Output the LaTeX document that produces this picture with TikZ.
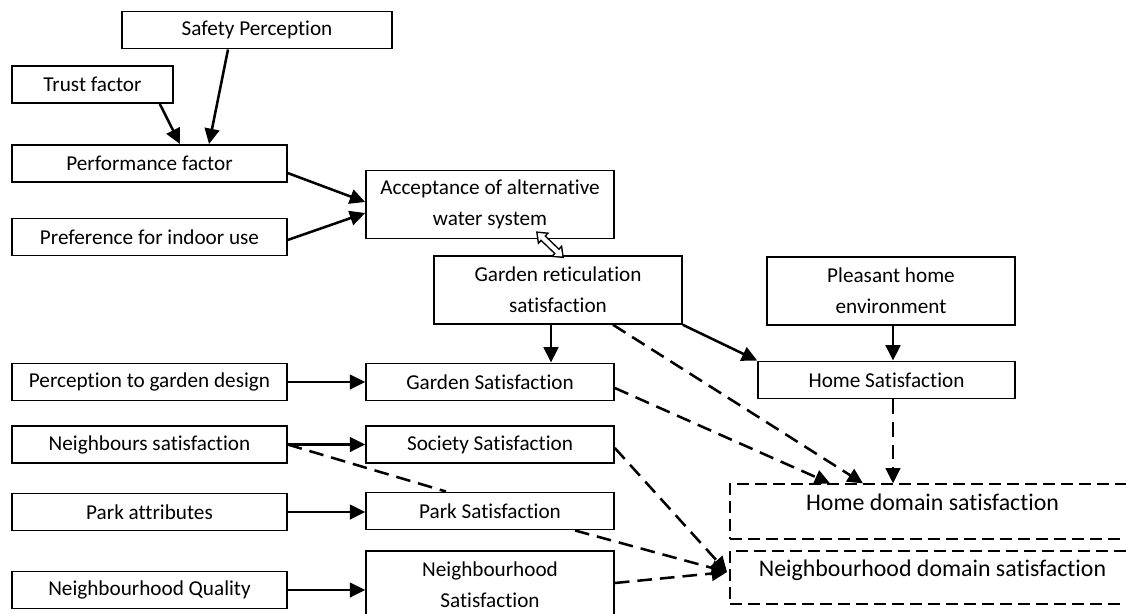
\documentclass[tikz,border=0pt]{standalone}
\usepackage{fontspec}
\setmainfont{Carlito}[Ligatures=NoCommon]
\usetikzlibrary{arrows.meta}

\begin{document}
\begin{tikzpicture}[x=0.75pt, y=-0.75pt,
	factor/.style={draw, line width=1.2pt, align=center, inner sep=2pt,
		font=\fontsize{15.9}{23}\selectfont, minimum height=28pt},
	wide/.style={minimum width=206pt},
	mid/.style={minimum width=186pt},
	twoline/.style={minimum height=51pt},
	dombox/.style={draw, line width=1.2pt, dash pattern=on 9pt off 4.5pt,
		minimum width=304pt, minimum height=41pt, text height=13pt, text depth=14pt,
		font=\fontsize{17.9}{21}\selectfont},
	solidarrow/.style={line width=1.9pt, -{Triangle[length=11.5pt,width=11pt]}},
	dashline/.style={line width=1.9pt, dash pattern=on 11pt off 6pt},
	dasharrow/.style={dashline, -{Triangle[length=11.5pt,width=11pt]}}]

\useasboundingbox (0,0) rectangle (1126,613);
\clip (0,0) rectangle (1126,613);

% acceptance part
\node[factor, minimum width=202.5pt] (safety) at (257,30) {Safety Perception};
\node[factor, minimum width=120.75pt] (trust) at (92.5,84.5) {Trust factor};
\node[factor, wide] (perf) at (149.5,163.5) {Performance factor};
\node[factor, wide] (indoor) at (149.5,237) {Preference for indoor use};
\node[factor, mid, twoline] (accept) at (490,204.5) {Acceptance of alternative\\water system};
\node[factor, mid, twoline] (retic) at (558,290) {Garden reticulation\\satisfaction};
\node[factor, mid, twoline] (pleasant) at (891,291) {Pleasant home\\environment};
\node[factor, minimum width=192.75pt] (homesat) at (886.5,380) {Home Satisfaction};

% satisfaction part
\node[factor, wide] (design) at (149.5,382) {Perception to garden design};
\node[factor, mid] (gardensat) at (490,382) {Garden Satisfaction};
\node[factor, wide] (neighbours) at (149.5,444.5) {Neighbours satisfaction};
\node[factor, mid] (society) at (490,444.5) {Society Satisfaction};
\node[factor, wide] (parkattr) at (149.5,512) {Park attributes};
\node[factor, mid] (parksat) at (490,511) {Park Satisfaction};
\node[factor, wide] (quality) at (149.5,590) {Neighbourhood Quality};
\node[factor, mid, twoline] (nbhsat) at (490,585) {Neighbourhood\\Satisfaction};

\node[dombox] (homedom) at (932.5,511.5) {Home domain satisfaction};
\node[dombox, minimum height=40pt] (nbhdom) at (932.5,577.5) {Neighbourhood domain satisfaction};

\draw[solidarrow] ([shift={(-14,0)}]trust.south east) -- ([shift={(30.5,0)}]perf.north);
\draw[solidarrow] ([shift={(-29,0)}]safety.south) -- ([shift={(59.5,0)}]perf.north);
\draw[solidarrow] ([shift={(0,9.5)}]perf.east) -- ([shift={(0,-2.5)}]accept.west);
\draw[solidarrow] ([shift={(0,3)}]indoor.east) -- ([shift={(0,8.5)}]accept.west);

% hollow two-way arrow
\draw[line width=5.5pt, {Triangle[length=8pt,width=12pt]}-{Triangle[length=8pt,width=12pt]}]
	([shift={(46,-8)}]accept.south) -- ([shift={(6,3)}]retic.north);
\draw[white, line width=3.3pt, shorten <=1.8pt, shorten >=1.8pt,
	{Triangle[length=5pt,width=7.5pt]}-{Triangle[length=5pt,width=7.5pt]}]
	([shift={(46,-8)}]accept.south) -- ([shift={(6,3)}]retic.north);

\draw[solidarrow] ([shift={(-7,0)}]retic.south) -- ([shift={(61,0)}]gardensat.north);
\draw[solidarrow] (retic.south east) -- (homesat.north west);
\draw[dasharrow] ([shift={(55,0)}]retic.south) -- ([shift={(-69.5,0)}]homedom.north);
\draw[dasharrow] ([shift={(0,6)}]gardensat.east) -- ([shift={(-102.5,0)}]homedom.north);
\draw[solidarrow] ([shift={(2,0)}]pleasant.south) -- ([shift={(6.5,0)}]homesat.north);
\draw[dasharrow] ([shift={(6.5,0)}]homesat.south) -- ([shift={(-39.5,0)}]homedom.north);

\draw[solidarrow] (design.east) -- (gardensat.west);
\draw[solidarrow] (neighbours.east) -- (society.west);
\draw[dashline] (neighbours.east) -- ([shift={(-44,0)}]parksat.north);
\draw[solidarrow] (parkattr.east) -- (parkattr.east -| parksat.west);
\draw[solidarrow] (quality.east) -- (quality.east -| nbhsat.west);

\draw[dasharrow] ([shift={(0,3.5)}]society.east) -- ([shift={(-2,-5.5)}]nbhdom.west);
\draw[dasharrow] ([shift={(85,0)}]parksat.south) -- ([shift={(-2,-5.5)}]nbhdom.west);
\draw[dasharrow] ([shift={(0,-2)}]nbhsat.east) -- ([shift={(-2,-5.5)}]nbhdom.west);

\end{tikzpicture}
\end{document}
